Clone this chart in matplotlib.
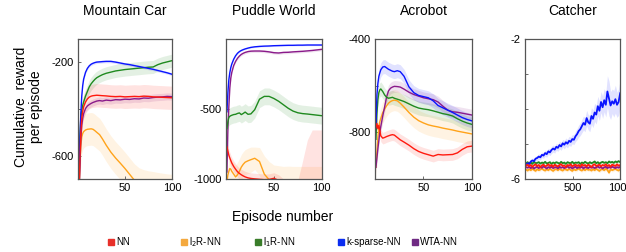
import numpy as np
import matplotlib
matplotlib.use("Agg")
import matplotlib.pyplot as plt
from matplotlib.lines import Line2D

plt.rcParams['font.family'] = ['Liberation Sans', 'DejaVu Sans']

# ---- data ----
ep = [1, 2, 3, 4, 5, 6, 8, 10, 12, 14, 16, 18, 20, 23, 26, 30, 35, 40, 45, 50,
      55, 60, 65, 70, 75, 80, 85, 90, 95, 100]

mc_nn = [-760, -620, -500, -440, -410, -390, -370, -357, -349, -345, -343, -342, -341, -342, -343,
         -344, -346, -347, -346, -348, -347, -346, -347, -345, -346, -348, -349, -350, -351, -352]
mc_l2 = [-760, -640, -560, -520, -505, -497, -490, -487, -486, -485, -487, -493, -500, -510, -528,
         -555, -585, -610, -632, -655, -680, -705, -722, -730, -735, -738, -742, -745, -748, -750]
mc_l1 = [-720, -520, -440, -405, -385, -370, -345, -325, -305, -292, -282, -273, -266, -259, -253,
         -247, -242, -237, -234, -231, -229, -227, -225, -223, -221, -220, -210, -203, -198, -193]
mc_ks = [-760, -540, -420, -345, -300, -272, -243, -226, -215, -208, -204, -201, -199, -198, -197,
         -196, -196, -199, -203, -207, -210, -214, -218, -222, -226, -230, -235, -240, -245, -251]
mc_wta = [-780, -650, -530, -470, -440, -420, -398, -387, -381, -376, -372, -369, -366, -364, -366,
          -362, -364, -360, -361, -358, -359, -356, -357, -353, -354, -351, -349, -348, -346, -347]
mc_sd = {'nn': 50, 'l2': 70, 'l1': 28, 'ks': 6, 'wta': 15}

pw_nn = [-770, -800, -830, -850, -868, -885, -910, -930, -948, -960, -970, -978, -985, -992, -996,
         -999, -1002, -1005, -1003, -995, -1010, -1040, -1060, -1080, -1100, -1120, -1140, -1150, -1150, -1150]
pw_nn_sd = [40, 40, 40, 40, 40, 40, 40, 40, 40, 40, 40, 40, 40, 40, 40,
            40, 40, 40, 40, 40, 40, 40, 40, 40, 90, 250, 420, 500, 500, 500]
pw_l2 = [-1020, -970, -945, -925, -930, -945, -965, -985, -970, -945, -915, -895, -880, -870, -862,
         -852, -875, -965, -1005, -1030, -1040, -1045, -1048, -1050, -1050, -1050, -1050, -1050, -1050, -1050]
pw_l2_sd = [60, 60, 70, 70, 80, 80, 80, 80, 90, 90, 90, 90, 90, 90, 90,
            80, 100, 130, 130, 130, 135, 135, 140, 140, 140, 140, 140, 140, 140, 140]
pw_l1 = [-640, -590, -560, -552, -548, -545, -540, -538, -532, -528, -540, -532, -522, -538, -535,
         -505, -430, -410, -410, -425, -445, -470, -495, -515, -527, -533, -536, -540, -544, -548]
pw_ks = [-520, -380, -290, -240, -205, -180, -145, -120, -102, -90, -82, -76, -71, -65, -60,
         -56, -53, -51, -50, -48, -47, -46, -45, -45, -44, -44, -43, -43, -43, -43]
pw_wta = [-950, -640, -480, -350, -280, -240, -190, -160, -138, -122, -110, -102, -96, -90, -87,
          -86, -86, -88, -92, -98, -100, -96, -95, -92, -90, -88, -85, -82, -78, -74]
pw_sd = {'l1': 60, 'ks': 5, 'wta': 10}

ac_nn = [-780, -762, -785, -770, -790, -815, -825, -822, -818, -815, -812, -810, -812, -822, -832,
         -842, -855, -870, -882, -890, -896, -902, -895, -897, -896, -895, -888, -873, -862, -859]
ac_l2 = [-950, -880, -820, -780, -755, -740, -715, -700, -686, -675, -668, -664, -662, -665, -675,
         -692, -715, -735, -750, -760, -768, -773, -777, -782, -786, -790, -795, -799, -803, -807]
ac_l1 = [-830, -720, -660, -630, -618, -614, -625, -640, -650, -654, -652, -650, -654, -658, -662,
         -668, -678, -688, -696, -700, -703, -708, -714, -720, -724, -730, -742, -752, -760, -766]
ac_ks = [-780, -640, -590, -560, -545, -532, -520, -518, -524, -530, -534, -538, -540, -536, -540,
         -560, -605, -630, -642, -647, -652, -665, -685, -695, -705, -715, -726, -737, -745, -751]
ac_wta = [-950, -910, -870, -835, -800, -775, -730, -690, -648, -622, -611, -606, -603, -604, -606,
          -615, -628, -638, -645, -652, -656, -660, -670, -688, -705, -712, -714, -718, -722, -726]
ac_sd = {'nn': 25, 'l2': 45, 'l1': 30, 'ks': 30, 'wta': 25}

ca_x = np.linspace(10, 1000, 60)
ca_ks = [-5.60, -5.55, -5.57, -5.50, -5.47, -5.49, -5.42, -5.40, -5.36, -5.38,
         -5.31, -5.33, -5.26, -5.29, -5.21, -5.24, -5.17, -5.13, -5.16, -5.08,
         -5.11, -5.03, -5.07, -4.98, -5.02, -4.95, -4.99, -4.91, -4.94, -4.86,
         -4.88, -4.78, -4.72, -4.63, -4.58, -4.49, -4.40, -4.45, -4.26, -4.38,
         -4.42, -4.20, -4.28, -4.10, -4.16, -3.92, -4.05, -3.80, -3.95, -3.75,
         -3.88, -3.50, -3.70, -3.90, -3.78, -3.85, -3.72, -3.88, -3.80, -3.55]
ca_ks_sd = [0.06, 0.06, 0.06, 0.06, 0.07, 0.07, 0.07, 0.07, 0.08, 0.08,
            0.08, 0.08, 0.09, 0.09, 0.09, 0.09, 0.10, 0.10, 0.10, 0.10,
            0.10, 0.11, 0.11, 0.11, 0.12, 0.12, 0.12, 0.13, 0.13, 0.13,
            0.14, 0.15, 0.16, 0.17, 0.18, 0.19, 0.20, 0.20, 0.22, 0.22,
            0.23, 0.24, 0.25, 0.26, 0.27, 0.28, 0.28, 0.30, 0.32, 0.33,
            0.35, 0.45, 0.50, 0.40, 0.35, 0.38, 0.40, 0.36, 0.38, 0.40]
ca_l1 = [-5.55, -5.52, -5.56, -5.53, -5.57, -5.51, -5.55, -5.54, -5.52, -5.56,
         -5.53, -5.55, -5.51, -5.56, -5.54, -5.52, -5.57, -5.53, -5.55, -5.52,
         -5.54, -5.56, -5.51, -5.55, -5.53, -5.57, -5.52, -5.54, -5.55, -5.51,
         -5.56, -5.53, -5.54, -5.52, -5.57, -5.53, -5.55, -5.51, -5.54, -5.56,
         -5.52, -5.55, -5.53, -5.50, -5.55, -5.52, -5.56, -5.53, -5.51, -5.54,
         -5.52, -5.55, -5.50, -5.53, -5.51, -5.54, -5.50, -5.52, -5.49, -5.52]
ca_nn = [-5.62, -5.59, -5.64, -5.60, -5.65, -5.61, -5.58, -5.63, -5.60, -5.66,
         -5.61, -5.59, -5.64, -5.62, -5.58, -5.63, -5.60, -5.65, -5.59, -5.62,
         -5.64, -5.60, -5.58, -5.63, -5.61, -5.66, -5.60, -5.62, -5.58, -5.64,
         -5.61, -5.59, -5.63, -5.60, -5.65, -5.58, -5.62, -5.60, -5.64, -5.59,
         -5.62, -5.66, -5.60, -5.58, -5.63, -5.61, -5.59, -5.64, -5.60, -5.62,
         -5.58, -5.63, -5.60, -5.65, -5.59, -5.61, -5.63, -5.58, -5.62, -5.60]
ca_wta = [-5.66, -5.68, -5.65, -5.69, -5.66, -5.70, -5.67, -5.65, -5.69, -5.66,
          -5.68, -5.64, -5.67, -5.70, -5.66, -5.68, -5.65, -5.69, -5.67, -5.66,
          -5.70, -5.65, -5.68, -5.66, -5.69, -5.67, -5.64, -5.68, -5.66, -5.70,
          -5.67, -5.65, -5.69, -5.66, -5.68, -5.65, -5.70, -5.66, -5.67, -5.69,
          -5.65, -5.68, -5.66, -5.69, -5.67, -5.64, -5.68, -5.66, -5.70, -5.67,
          -5.65, -5.69, -5.66, -5.68, -5.65, -5.67, -5.69, -5.66, -5.68, -5.65]
ca_l2 = [-5.73, -5.76, -5.72, -5.75, -5.71, -5.74, -5.77, -5.72, -5.75, -5.73,
         -5.70, -5.74, -5.76, -5.72, -5.75, -5.71, -5.74, -5.77, -5.73, -5.72,
         -5.75, -5.71, -5.74, -5.76, -5.72, -5.73, -5.75, -5.71, -5.74, -5.77,
         -5.72, -5.75, -5.73, -5.70, -5.74, -5.76, -5.72, -5.75, -5.71, -5.74,
         -5.73, -5.76, -5.72, -5.75, -5.71, -5.74, -5.77, -5.73, -5.72, -5.75,
         -5.71, -5.74, -5.82, -5.72, -5.75, -5.73, -5.71, -5.74, -5.76, -5.72]
ca_sd = 0.05

names = ['NN', 'l$_2$R-NN', 'l$_1$R-NN', 'k-sparse-NN', 'WTA-NN']
colors = {'nn': '#ff1a0f', 'l2': '#ffa31a', 'l1': '#1f8a1f', 'ks': '#0a14ff', 'wta': '#8a1a8a'}
legend_colors = ['#e8302a', '#f4a93f', '#3a7d2a', '#0a2cf0', '#6f2a83']

fig = plt.figure(figsize=(6.26, 2.52), dpi=100)

def band(ax, x, y, sd, key, alpha=0.12):
    y = np.asarray(y, dtype=float)
    sd = np.broadcast_to(np.asarray(sd, dtype=float), y.shape)
    ax.fill_between(x, y - sd, y + sd, color=colors[key], alpha=alpha, lw=0)

def draw(ax, x, series, sds, lw=1.0):
    for key in ['l2', 'wta', 'l1', 'ks', 'nn']:
        if key not in series:
            continue
        band(ax, x, series[key], sds[key], key)
    for key in ['l2', 'wta', 'l1', 'ks', 'nn']:
        if key not in series:
            continue
        ax.plot(x, series[key], color=colors[key], lw=lw)

def style(ax, title, ylim, yticks, ylabels, xlim, xticks):
    ax.set_xlim(*xlim)
    ax.set_ylim(*ylim)
    ax.set_yticks(yticks)
    ax.set_yticklabels(ylabels)
    ax.set_xticks(xticks)
    ax.set_xticklabels([str(t) for t in xticks])
    ax.tick_params(direction='in', length=2.5, width=0.6, labelsize=8, pad=3, color='#555555')
    for s in ax.spines.values():
        s.set_color('#555555')
        s.set_linewidth(0.9)
    ax.set_title(title, fontsize=10, pad=17)

ax1 = fig.add_axes([0.1246, 0.2897, 0.150, 0.5556])
draw(ax1, ep, {'nn': mc_nn, 'l2': mc_l2, 'l1': mc_l1, 'ks': mc_ks, 'wta': mc_wta}, mc_sd)
style(ax1, 'Mountain Car', (-700, -100), [-600, -400, -200], ['-600', '', '-200'], (0, 100), [50, 100])

ax2 = fig.add_axes([0.361, 0.2897, 0.153, 0.5556])
draw(ax2, ep, {'nn': pw_nn, 'l2': pw_l2, 'l1': pw_l1, 'ks': pw_ks, 'wta': pw_wta},
     {'nn': pw_nn_sd, 'l2': pw_l2_sd, 'l1': pw_sd['l1'], 'ks': pw_sd['ks'], 'wta': pw_sd['wta']})
style(ax2, 'Puddle World', (-1000, 0), [-1000, -500, 0], ['-1000', '-500', ''], (0, 100), [50, 100])

ax3 = fig.add_axes([0.599, 0.2897, 0.155, 0.5556])
draw(ax3, ep, {'nn': ac_nn, 'l2': ac_l2, 'l1': ac_l1, 'ks': ac_ks, 'wta': ac_wta}, ac_sd)
style(ax3, 'Acrobot', (-1000, -400), [-1000, -800, -600, -400], ['', '-800', '', '-400'], (0, 100), [50, 100])

ax4 = fig.add_axes([0.8387, 0.2897, 0.152, 0.5556])
draw(ax4, ca_x, {'nn': ca_nn, 'l2': ca_l2, 'l1': ca_l1, 'ks': ca_ks, 'wta': ca_wta},
     {'nn': ca_sd, 'l2': ca_sd, 'l1': ca_sd, 'ks': ca_ks_sd, 'wta': ca_sd}, lw=1.3)
style(ax4, 'Catcher', (-6, -2), [-6, -5, -4, -3, -2], ['-6', '', '', '', '-2'], (0, 1000), [500, 1000])

fig.text(0.046, 0.575, 'Cumulative  reward\nper episode', rotation=90, ha='center', va='center',
         fontsize=10, multialignment='center', linespacing=1.1)
fig.text(0.452, 0.139, 'Episode number', ha='center', va='center', fontsize=10)

leg_x = [0.177, 0.294, 0.412, 0.545, 0.663]
for lx, name, c in zip(leg_x, names, legend_colors):
    fig.add_artist(Line2D([lx], [0.04], marker='s', markersize=4.5, color=c, lw=0,
                          transform=fig.transFigure))
    fig.text(lx + 0.008, 0.04, name, ha='left', va='center', fontsize=7)

fig.savefig('out.png', dpi=100)
